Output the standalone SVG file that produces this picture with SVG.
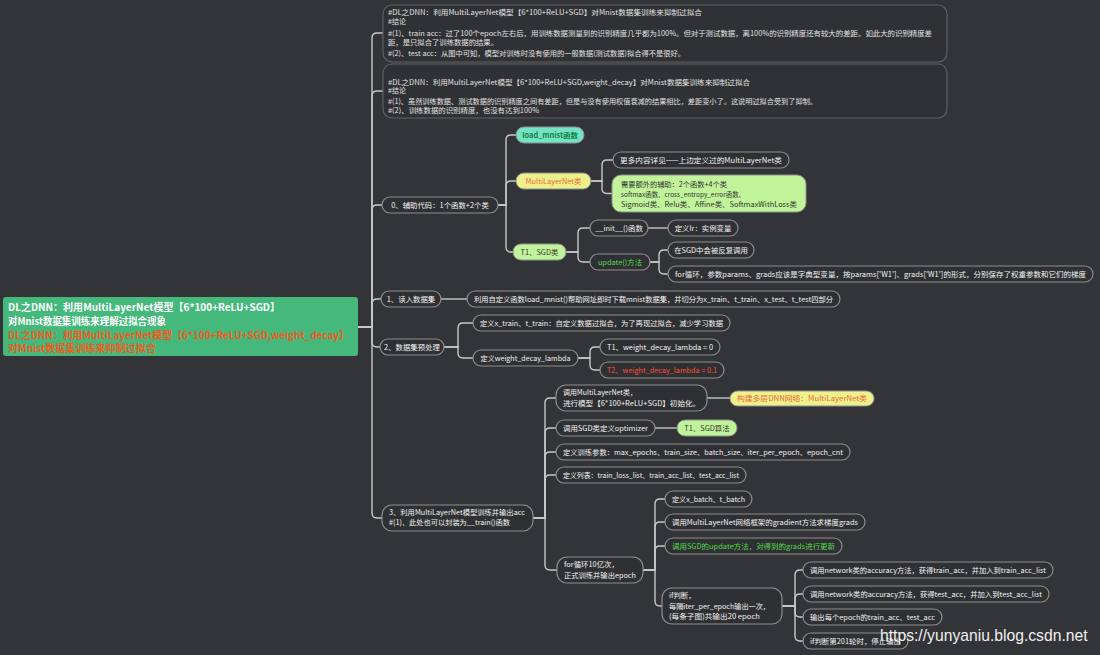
<svg xmlns="http://www.w3.org/2000/svg" width="1100" height="655" viewBox="0 0 1100 655">
<style>
.bg{fill:#333437}
.p{fill:#2f3033;stroke:#8e8e8e;stroke-width:1.2}
.note{fill:#303134;stroke:#606165;stroke-width:1.2}
.t{font-family:"Noto Sans CJK SC","Noto Sans",sans-serif;font-size:7.4px;fill:#f2f2f2}
.nt{font-family:"Noto Sans CJK SC","Noto Sans",sans-serif;font-size:7px;fill:#e2e2e2}
.c{text-anchor:middle}
.rt{font-family:"Noto Sans CJK SC","Noto Sans",sans-serif;font-size:10px;font-weight:bold;fill:#ffffff}
.or{fill:#f2581f}
.ln{fill:none;stroke:#c8c8c8;stroke-width:1.4}
.teal{fill:#74e3c1;stroke:#8e8e8e;stroke-width:1}
.yel{fill:#eef08c;stroke:#8e8e8e;stroke-width:1}
.lg{fill:#c1f49a;stroke:#8e8e8e;stroke-width:1}
.dk{fill:#333333}
.gr{fill:#52dc4c}
.red{fill:#ff4b3a}
.ot{fill:#f06a35}
</style>
<rect class="bg" x="0" y="0" width="1100" height="655"/>

<g id="connectors">
<path class="ln" d="M358,327 H372 V38 Q372,33 377,33 H383"/>
<path class="ln" d="M358,327 H372 V96 Q372,91 377,91 H383"/>
<path class="ln" d="M358,327 H372 V210 Q372,205 377,205 H382"/>
<path class="ln" d="M358,327 H372 V304 Q372,299 377,299 H381"/>
<path class="ln" d="M358,327 H372 V342 Q372,347 377,347 H380"/>
<path class="ln" d="M358,327 H372 V513 Q372,518 377,518 H382"/>
<path class="ln" d="M498,205 H506 V140 Q506,135 511,135 H516"/>
<path class="ln" d="M498,205 H506 V186 Q506,181 511,181 H516"/>
<path class="ln" d="M498,205 H506 V247 Q506,252 511,252 H513"/>
<path class="ln" d="M591,181 H602 V165 Q602,160 607,160 H613"/>
<path class="ln" d="M591,181 H602 V188.5 Q602,193.5 607,193.5 H612"/>
<path class="ln" d="M566,252 H578 V233 Q578,228 583,228 H590"/>
<path class="ln" d="M566,252 H578 V257 Q578,262 583,262 H590"/>
<path class="ln" d="M648,228 H668"/>
<path class="ln" d="M650,262 H659 V255 Q659,250 664,250 H668"/>
<path class="ln" d="M650,262 H659 V269 Q659,274 664,274 H668"/>
<path class="ln" d="M441,299 H467"/>
<path class="ln" d="M444,347 H458 V328 Q458,323 463,323 H473"/>
<path class="ln" d="M444,347 H458 V353 Q458,358 463,358 H473"/>
<path class="ln" d="M578,358 H590 V352 Q590,347 595,347 H600"/>
<path class="ln" d="M578,358 H590 V365 Q590,370 595,370 H600"/>
<path class="ln" d="M533,518 H545 V403 Q545,398 550,398 H556"/>
<path class="ln" d="M533,518 H545 V433 Q545,428 550,428 H556"/>
<path class="ln" d="M533,518 H545 V457 Q545,452 550,452 H556"/>
<path class="ln" d="M533,518 H545 V480 Q545,475 550,475 H556"/>
<path class="ln" d="M533,518 H545 V565 Q545,570 550,570 H557"/>
<path class="ln" d="M707,398 H730"/>
<path class="ln" d="M655,428 H677"/>
<path class="ln" d="M643,570 H655 V504 Q655,499 660,499 H665"/>
<path class="ln" d="M643,570 H655 V527 Q655,522 660,522 H665"/>
<path class="ln" d="M643,570 H655 V551 Q655,546 660,546 H665"/>
<path class="ln" d="M643,570 H655 V601 Q655,606 660,606 H662"/>
<path class="ln" d="M782,606 H795 V575 Q795,570 800,570 H803"/>
<path class="ln" d="M782,606 H795 V599 Q795,594 800,594 H803"/>
<path class="ln" d="M782,606 H795 V612 Q795,617 800,617 H803"/>
<path class="ln" d="M782,606 H795 V636 Q795,641 800,641 H803"/>
</g>

<g id="root">
<rect x="3" y="297" width="355" height="59" rx="3" fill="#45b97c"/>
<text class="rt" x="8" y="311" textLength="272" lengthAdjust="spacingAndGlyphs">DL之DNN：利用MultiLayerNet模型【6*100+ReLU+SGD】</text>
<text class="rt" x="8" y="324.5" textLength="158" lengthAdjust="spacingAndGlyphs">对Mnist数据集训练来理解过拟合现象</text>
<text class="rt or" x="8" y="339" textLength="341" lengthAdjust="spacingAndGlyphs">DL之DNN：利用MultiLayerNet模型【6*100+ReLU+SGD,weight_decay】</text>
<text class="rt or" x="8" y="352" textLength="148" lengthAdjust="spacingAndGlyphs">对Mnist数据集训练来抑制过拟合</text>
</g>

<g id="note1">
<rect class="note" x="383" y="5" width="564" height="57" rx="9"/>
<text class="nt" x="388" y="14.5" textLength="314" lengthAdjust="spacingAndGlyphs">#DL之DNN：利用MultiLayerNet模型【6*100+ReLU+SGD】对Mnist数据集训练来抑制过拟合</text>
<text class="nt" x="388" y="23.5">#结论</text>
<text class="nt" x="388" y="35.5" textLength="544" lengthAdjust="spacingAndGlyphs">#(1)、train acc：过了100个epoch左右后，用训练数据测量到的识别精度几乎都为100%。但对于测试数据，离100%的识别精度还有较大的差距。如此大的识别精度差</text>
<text class="nt" x="388" y="44.5" textLength="110" lengthAdjust="spacingAndGlyphs">距，是只拟合了训练数据的结果。</text>
<text class="nt" x="388" y="56" textLength="297" lengthAdjust="spacingAndGlyphs">#(2)、test acc：从图中可知，模型对训练时没有使用的一般数据(测试数据)拟合得不是很好。</text>
</g>

<g id="note2">
<rect class="note" x="383" y="64" width="564" height="54" rx="9"/>
<text class="nt" x="388" y="84.5" textLength="362" lengthAdjust="spacingAndGlyphs">#DL之DNN：利用MultiLayerNet模型【6*100+ReLU+SGD,weight_decay】对Mnist数据集训练来抑制过拟合</text>
<text class="nt" x="388" y="92.5">#结论</text>
<text class="nt" x="388" y="104" textLength="429" lengthAdjust="spacingAndGlyphs">#(1)、虽然训练数据、测试数据的识别精度之间有差距，但是与没有使用权值衰减的结果相比，差距变小了。这说明过拟合受到了抑制。</text>
<text class="nt" x="388" y="113" textLength="151" lengthAdjust="spacingAndGlyphs">#(2)、训练数据的识别精度，也没有达到100%</text>
</g>

<g id="n0"><rect class="p" x="382" y="197" width="116" height="16" rx="8"/><text class="t c" x="440" y="207.6">0、辅助代码：1个函数+2个类</text></g>
<g id="load_mnist"><rect class="teal" x="516" y="127" width="68" height="16" rx="8"/><text class="t c" x="550" y="137.6" style="fill:#17804f;font-weight:bold">load_mnist函数</text></g>
<g id="mln"><rect class="yel" x="516" y="173" width="75" height="16" rx="8"/><text class="t c ot" x="553.5" y="183.6">MultiLayerNet类</text></g>
<g id="more"><rect class="p" x="613" y="152" width="176" height="16" rx="8"/><text class="t c" x="701" y="162.6" textLength="162" lengthAdjust="spacingAndGlyphs">更多内容详见——上边定义过的MultiLayerNet类</text></g>
<g id="need">
<rect class="lg" x="612" y="175" width="194" height="37" rx="9"/>
<text class="t dk" x="621" y="186.5" textLength="106" lengthAdjust="spacingAndGlyphs">需要额外的辅助：2个函数+4个类</text>
<text class="t dk" x="621" y="196.5" textLength="124" lengthAdjust="spacingAndGlyphs">softmax函数、cross_entropy_error函数、</text>
<text class="t dk" x="621" y="206.5" textLength="176" lengthAdjust="spacingAndGlyphs">Sigmoid类、Relu类、Affine类、SoftmaxWithLoss类</text>
</g>
<g id="sgd"><rect class="lg" x="513" y="244" width="53" height="16" rx="8"/><text class="t c dk" x="539.5" y="254.6">T1、SGD类</text></g>
<g id="init"><rect class="p" x="590" y="220" width="58" height="16" rx="8"/><text class="t c" x="619" y="230.6">__init__()函数</text></g>
<g id="lr"><rect class="p" x="668" y="220" width="70" height="16" rx="8"/><text class="t c" x="703" y="230.6">定义lr：实例变量</text></g>
<g id="update"><rect class="p" x="590" y="254" width="60" height="16" rx="8"/><text class="t c gr" x="620" y="264.6">update()方法</text></g>
<g id="sgdcall"><rect class="p" x="668" y="242" width="86" height="16" rx="8"/><text class="t c" x="711" y="252.6">在SGD中会被反复调用</text></g>
<g id="forparams"><rect class="p" x="668" y="266" width="425" height="16" rx="8"/><text class="t c" x="880.5" y="276.6" textLength="411" lengthAdjust="spacingAndGlyphs">for循环，参数params、grads应该是字典型变量，按params['W1']、grads['W1']的形式，分别保存了权重参数和它们的梯度</text></g>

<g id="n1"><rect class="p" x="381" y="291" width="60" height="16" rx="8"/><text class="t c" x="411" y="301.6">1、读入数据集</text></g>
<g id="n1c"><rect class="p" x="467" y="291" width="373" height="16" rx="8"/><text class="t c" x="653.5" y="301.6" textLength="359" lengthAdjust="spacingAndGlyphs">利用自定义函数load_mnist()帮助网址即时下载mnist数据集，并切分为x_train、t_train、x_test、t_test四部分</text></g>
<g id="n2"><rect class="p" x="380" y="339" width="64" height="16" rx="8"/><text class="t c" x="412" y="349.6">2、数据集预处理</text></g>
<g id="xtrain"><rect class="p" x="473" y="315" width="257" height="16" rx="8"/><text class="t c" x="601.5" y="325.6" textLength="243" lengthAdjust="spacingAndGlyphs">定义x_train、t_train：自定义数据过拟合，为了再现过拟合，减少学习数据</text></g>
<g id="wdl"><rect class="p" x="473" y="350" width="105" height="16" rx="8"/><text class="t c" x="525.5" y="360.6" textLength="90" lengthAdjust="spacingAndGlyphs">定义weight_decay_lambda</text></g>
<g id="t1wd"><rect class="p" x="600" y="339" width="120" height="16" rx="8"/><text class="t c" x="660" y="349.6" textLength="106" lengthAdjust="spacingAndGlyphs">T1、weight_decay_lambda = 0</text></g>
<g id="t2wd"><rect class="p" x="600" y="362" width="124" height="16" rx="8"/><text class="t c red" x="662" y="372.6" textLength="110" lengthAdjust="spacingAndGlyphs">T2、weight_decay_lambda = 0.1</text></g>

<g id="n3">
<rect class="p" x="382" y="505" width="151" height="26" rx="10"/>
<text class="t" x="389" y="514.5" textLength="136" lengthAdjust="spacingAndGlyphs">3、利用MultiLayerNet模型训练并输出acc</text>
<text class="t" x="389" y="525" textLength="121" lengthAdjust="spacingAndGlyphs">#(1)、此处也可以封装为__train()函数</text>
</g>
<g id="initmln">
<rect class="p" x="556" y="385" width="151" height="26" rx="10"/>
<text class="t" x="563" y="395" textLength="74" lengthAdjust="spacingAndGlyphs">调用MultiLayerNet类，</text>
<text class="t" x="563" y="405.5" textLength="137" lengthAdjust="spacingAndGlyphs">进行模型【6*100+ReLU+SGD】初始化。</text>
</g>
<g id="build"><rect class="yel" x="730" y="391" width="144" height="15" rx="7.5"/><text class="t c ot" x="802" y="401.2" textLength="130" lengthAdjust="spacingAndGlyphs">构建多层DNN网络：MultiLayerNet类</text></g>
<g id="optim"><rect class="p" x="556" y="420" width="99" height="16" rx="8"/><text class="t c" x="605.5" y="430.6" textLength="85" lengthAdjust="spacingAndGlyphs">调用SGD类定义optimizer</text></g>
<g id="sgdalg"><rect class="lg" x="677" y="420" width="60" height="16" rx="8"/><text class="t c dk" x="707" y="430.6">T1、SGD算法</text></g>
<g id="params"><rect class="p" x="556" y="444" width="294" height="16" rx="8"/><text class="t c" x="703" y="454.6" textLength="280" lengthAdjust="spacingAndGlyphs">定义训练参数：max_epochs、train_size、batch_size、iter_per_epoch、epoch_cnt</text></g>
<g id="lists"><rect class="p" x="556" y="467" width="190" height="16" rx="8"/><text class="t c" x="651" y="477.6" textLength="176" lengthAdjust="spacingAndGlyphs">定义列表：train_loss_list、train_acc_list、test_acc_list</text></g>
<g id="forl">
<rect class="p" x="557" y="557" width="86" height="26" rx="10"/>
<text class="t" x="564" y="567">for循环10亿次，</text>
<text class="t" x="564" y="577.5" textLength="72" lengthAdjust="spacingAndGlyphs">正式训练并输出epoch</text>
</g>
<g id="xbatch"><rect class="p" x="665" y="491" width="87" height="16" rx="8"/><text class="t c" x="708.5" y="501.6" textLength="73" lengthAdjust="spacingAndGlyphs">定义x_batch、t_batch</text></g>
<g id="grad"><rect class="p" x="665" y="514" width="200" height="16" rx="8"/><text class="t c" x="765" y="524.6" textLength="186" lengthAdjust="spacingAndGlyphs">调用MultiLayerNet网络框架的gradient方法求梯度grads</text></g>
<g id="upd"><rect class="p" x="665" y="538" width="177" height="16" rx="8"/><text class="t c gr" x="753.5" y="548.6" textLength="163" lengthAdjust="spacingAndGlyphs">调用SGD的update方法，对得到的grads进行更新</text></g>
<g id="ifj">
<rect class="p" x="662" y="588" width="120" height="36" rx="10"/>
<text class="t" x="669" y="598">if判断，</text>
<text class="t" x="669" y="608.5" textLength="101" lengthAdjust="spacingAndGlyphs">每隔iter_per_epoch输出一次，</text>
<text class="t" x="669" y="619" textLength="91" lengthAdjust="spacingAndGlyphs">(每条子图)共输出20 epoch</text>
</g>
<g id="acc1"><rect class="p" x="803" y="562" width="250" height="16" rx="8"/><text class="t c" x="928" y="572.6" textLength="236" lengthAdjust="spacingAndGlyphs">调用network类的accuracy方法，获得train_acc，并加入到train_acc_list</text></g>
<g id="acc2"><rect class="p" x="803" y="586" width="246" height="16" rx="8"/><text class="t c" x="926" y="596.6" textLength="232" lengthAdjust="spacingAndGlyphs">调用network类的accuracy方法，获得test_acc，并加入到test_acc_list</text></g>
<g id="out"><rect class="p" x="803" y="609" width="139" height="16" rx="8"/><text class="t c" x="872.5" y="619.6" textLength="125" lengthAdjust="spacingAndGlyphs">输出每个epoch的train_acc、test_acc</text></g>
<g id="stop"><rect class="p" x="803" y="633" width="105" height="16" rx="8"/><text class="t c" x="855.5" y="643.6" textLength="91" lengthAdjust="spacingAndGlyphs">if判断第201轮时，停止输出</text></g>

<text x="880" y="641" font-family="Liberation Sans, Arial, sans-serif" font-size="15.7" fill="#f0f0f0">https://yunyaniu.blog.csdn.net</text>
</svg>
